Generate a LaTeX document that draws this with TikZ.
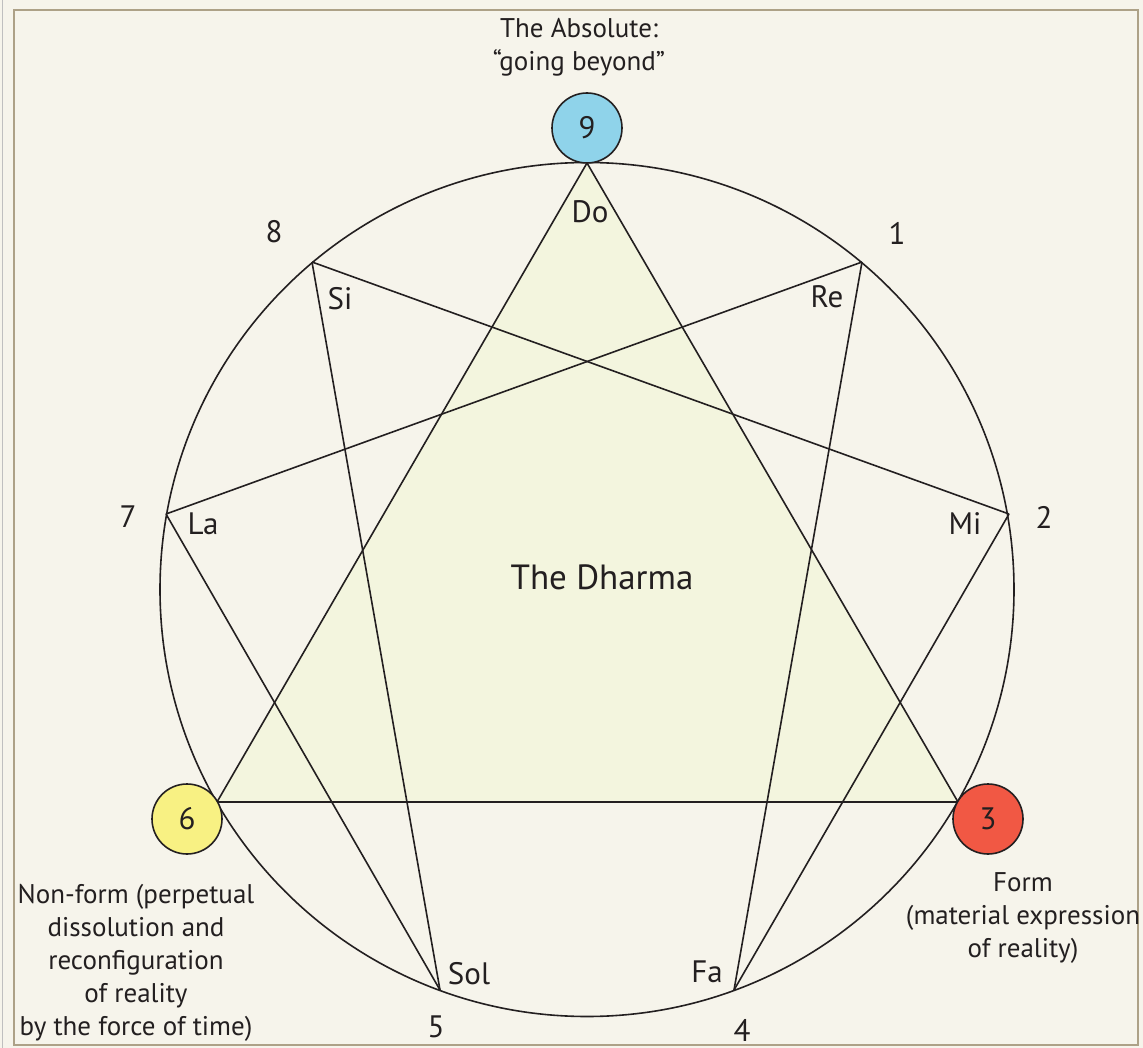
\documentclass[tikz,border=0pt]{standalone}
\usepackage{fontspec}
\setmainfont{PT Sans}
\definecolor{paper}{HTML}{F6F4EB}
\definecolor{framec}{HTML}{ADA187}
\definecolor{trifill}{HTML}{F3F5DE}
\definecolor{inkc}{HTML}{231F20}
\definecolor{bluec}{HTML}{8FD3EA}
\definecolor{yellowc}{HTML}{F8F183}
\definecolor{redc}{HTML}{F15844}
\begin{document}
\begin{tikzpicture}[x=1pt,y=-1pt,
  line width=1.6pt, draw=inkc, text=inkc,
  edge/.style={draw=inkc, line width=1.6pt, line join=round},
  pointnode/.style={circle, draw=inkc, line width=1.6pt, minimum size=70pt, inner sep=0pt, font=\fontsize{31}{36}\selectfont},
  numlabel/.style={font=\fontsize{31}{36}\selectfont, inner sep=0pt},
  notelabel/.style={font=\fontsize{31}{36}\selectfont, inner sep=0pt},
  caption/.style={font=\fontsize{27}{33}\selectfont, align=center, inner sep=0pt},
  title/.style={font=\fontsize{35}{40}\selectfont, inner sep=0pt}]
\fill[paper] (0,0) rectangle (1143,1048);
\useasboundingbox (0,0) rectangle (1143,1048);
\draw[black!25, line width=1pt] (2.5,0) -- (2.5,1048);
\draw[framec, line width=2.6pt] (14,10) rectangle (1138,1045);

% enneagram points on the circle
\coordinate (c) at (587,589.5);
\coordinate (p9) at (587,163);
\coordinate (p1) at (862,262);
\coordinate (p2) at (1009,514);
\coordinate (p3) at (958,802);
\coordinate (p4) at (734,990);
\coordinate (p5) at (440,990);
\coordinate (p6) at (217,802);
\coordinate (p7) at (166,514);
\coordinate (p8) at (312,262);

% triangle
\filldraw[edge, fill=trifill] (p9) -- (p3) -- (p6) -- cycle;
% circle
\draw[edge] (c) circle [radius=427];
% hexad
\draw[edge] (p1) -- (p4);
\draw[edge] (p4) -- (p2);
\draw[edge] (p2) -- (p8);
\draw[edge] (p8) -- (p5);
\draw[edge] (p5) -- (p7);
\draw[edge] (p7) -- (p1);

% coloured points
\node[pointnode, fill=bluec] (n9) at (587,128) {9};
\node[pointnode, fill=yellowc] (n6) at (187,819) {6};
\node[pointnode, fill=redc] (n3) at (988,819) {3};

% numbers
\node[numlabel] (l8) at (274,232) {8};
\node[numlabel] (l1) at (897,233) {1};
\node[numlabel] (l7) at (128,517) {7};
\node[numlabel] (l2) at (1044,517) {2};
\node[numlabel] (l5) at (436,1027) {5};
\node[numlabel] (l4) at (742,1030) {4};

% notes
\node[notelabel] (do) at (590,212) {Do};
\node[notelabel] (re) at (827,297) {Re};
\node[notelabel] (mi) at (965,524) {Mi};
\node[notelabel] (fa) at (707,972) {Fa};
\node[notelabel] (sol) at (469,974) {Sol};
\node[notelabel] (la) at (203,524) {La};
\node[notelabel] (si) at (340,299) {Si};

\node[title] (dharma) at (602,577) {The Dharma};

% captions
\node[caption] (abs) at (579,47) {The Absolute:\\``going beyond''};
\node[caption] (nonform) at (136,963) {Non-form (perpetual\\dissolution and\\reconfiguration\\of reality\\by the force of time)};
\node[caption] (form) at (1023,918) {Form\\(material expression\\of reality)};
\end{tikzpicture}
\end{document}
